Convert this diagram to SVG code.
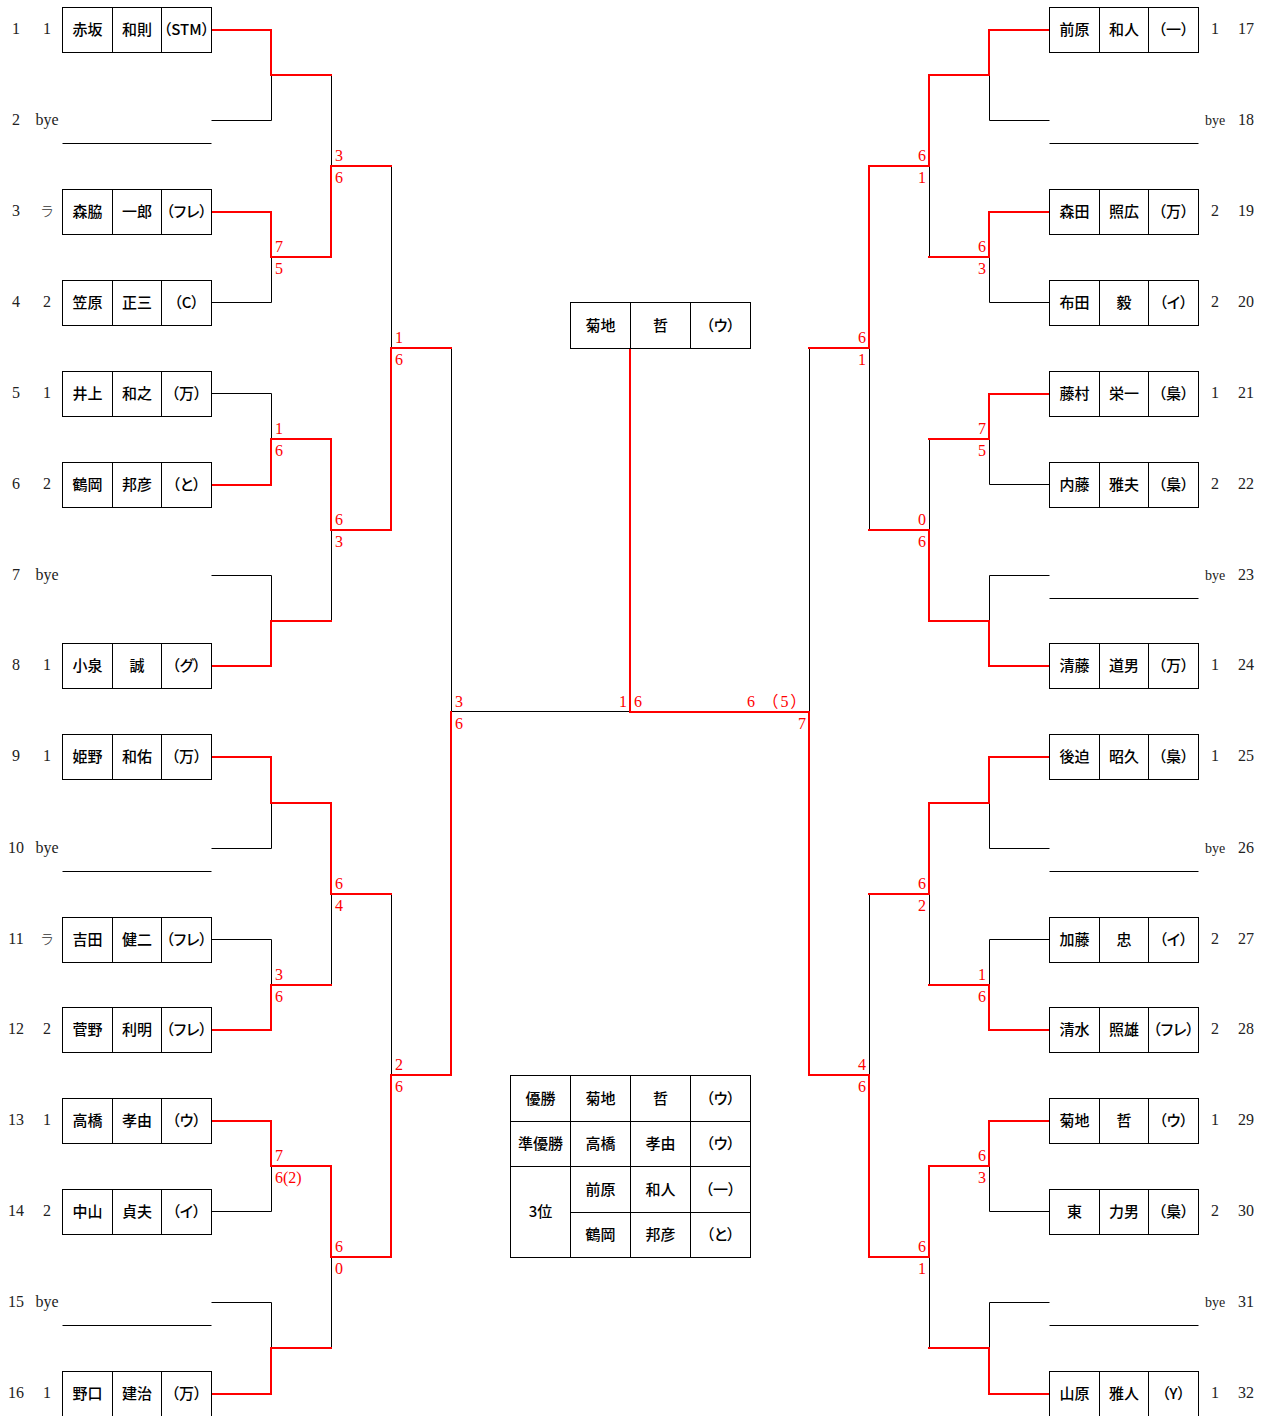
<svg xmlns="http://www.w3.org/2000/svg" xmlns:xlink="http://www.w3.org/1999/xlink" width="1266" height="1416" viewBox="0 0 1266 1416">
<style>
.sn{font-family:"Liberation Serif",serif;font-size:16px;fill:#222;text-anchor:middle}
.by{font-family:"Liberation Serif",serif;font-size:16px;fill:#222;text-anchor:middle}
.by2{font-family:"Liberation Serif",serif;font-size:14px;fill:#222;text-anchor:middle}
.ra{font-family:"Noto Sans CJK JP",sans-serif;font-size:14px;font-weight:300;fill:#333;text-anchor:middle}
.nm{font-family:"Noto Sans CJK JP","Noto Sans",sans-serif;font-size:15px;font-weight:500;fill:#000;text-anchor:middle;font-feature-settings:"palt" 1}
.sc{font-family:"Liberation Serif","Noto Sans CJK JP",serif;font-size:16px;fill:#f00}
.e{text-anchor:end}
.ln{fill:none;stroke:#000;stroke-width:1}
.win{fill:none;stroke:#f00;stroke-width:2;stroke-linecap:square;stroke-linejoin:miter}
</style>
<defs>
<g id="boxL"><rect x="62.5" y="-22" width="149" height="45" fill="none" stroke="#000" stroke-width="1"/><path d="M112.5 -22V23M161.5 -22V23" fill="none" stroke="#000" stroke-width="1"/></g>
<g id="boxR"><rect x="1049.5" y="-22" width="149" height="45" fill="none" stroke="#000" stroke-width="1"/><path d="M1099.5 -22V23M1148.5 -22V23" fill="none" stroke="#000" stroke-width="1"/></g>
</defs>
<rect width="1266" height="1416" fill="#fff"/>

<g id="connectors">
<path class="ln" d="M211.5 29.5H271.5V120.5H211.5M211.5 211.5H271.5V302.5H211.5M211.5 393.5H271.5V484.5H211.5M211.5 575.5H271.5V665.5H211.5M211.5 756.5H271.5V848.5H211.5M211.5 939.5H271.5V1029.5H211.5M211.5 1120.5H271.5V1211.5H211.5M211.5 1302.5H271.5V1393.5H211.5M331.5 75V257M331.5 439V621M331.5 803V985M331.5 1166V1348M391.5 166V530M391.5 894V1257M451.5 348V1075M451.5 711.5H630.5"/>
<path class="ln" d="M1049.5 29.5H989.5V120.5H1049.5M1049.5 211.5H989.5V302.5H1049.5M1049.5 393.5H989.5V484.5H1049.5M1049.5 575.5H989.5V665.5H1049.5M1049.5 756.5H989.5V848.5H1049.5M1049.5 939.5H989.5V1029.5H1049.5M1049.5 1120.5H989.5V1211.5H1049.5M1049.5 1302.5H989.5V1393.5H1049.5M929.5 75V257M929.5 439V621M929.5 803V985M929.5 1166V1348M869.5 166V530M869.5 894V1257M809.5 348V1075"/>
<path class="win" d="M212 30H271V75H331"/>
<path class="win" d="M212 212H271V257H331V166H391"/>
<path class="win" d="M212 485H271V439H331V530H391V348H451"/>
<path class="win" d="M212 666H271V621H331"/>
<path class="win" d="M212 757H271V803H331V894H391"/>
<path class="win" d="M212 1030H271V985H331"/>
<path class="win" d="M212 1121H271V1166H331V1257H391V1075H451V712"/>
<path class="win" d="M212 1394H271V1348H331"/>
<path class="win" d="M1049 30H989V75H929V166H869V348H809"/>
<path class="win" d="M1049 212H989V257H929"/>
<path class="win" d="M1049 394H989V439H929"/>
<path class="win" d="M1049 666H989V621H929V530H869"/>
<path class="win" d="M1049 757H989V803H929V894H869"/>
<path class="win" d="M1049 1030H989V985H929"/>
<path class="win" d="M1049 1121H989V1166H929V1257H869V1075H809V712H630V350"/>
<path class="win" d="M1049 1394H989V1348H929"/>
</g>

<g id="scores">
<text class="sc" x="275" y="252">7</text><text class="sc" x="275" y="274">5</text>
<text class="sc" x="275" y="434">1</text><text class="sc" x="275" y="456">6</text>
<text class="sc" x="275" y="980">3</text><text class="sc" x="275" y="1002">6</text>
<text class="sc" x="275" y="1161">7</text><text class="sc" x="275" y="1183">6(2)</text>
<text class="sc" x="335" y="161">3</text><text class="sc" x="335" y="183">6</text>
<text class="sc" x="335" y="525">6</text><text class="sc" x="335" y="547">3</text>
<text class="sc" x="335" y="889">6</text><text class="sc" x="335" y="911">4</text>
<text class="sc" x="335" y="1252">6</text><text class="sc" x="335" y="1274">0</text>
<text class="sc" x="395" y="343">1</text><text class="sc" x="395" y="365">6</text>
<text class="sc" x="395" y="1070">2</text><text class="sc" x="395" y="1092">6</text>
<text class="sc" x="455" y="707">3</text><text class="sc" x="455" y="729">6</text>
<text class="sc e" x="627" y="707">1</text><text class="sc" x="634" y="707">6</text>
<text class="sc" x="747" y="707" letter-spacing="1.8">6 （5）</text><text class="sc e" x="806" y="729">7</text>
<text class="sc e" x="866" y="343">6</text><text class="sc e" x="866" y="365">1</text>
<text class="sc e" x="866" y="1070">4</text><text class="sc e" x="866" y="1092">6</text>
<text class="sc e" x="926" y="161">6</text><text class="sc e" x="926" y="183">1</text>
<text class="sc e" x="926" y="525">0</text><text class="sc e" x="926" y="547">6</text>
<text class="sc e" x="926" y="889">6</text><text class="sc e" x="926" y="911">2</text>
<text class="sc e" x="926" y="1252">6</text><text class="sc e" x="926" y="1274">1</text>
<text class="sc e" x="986" y="252">6</text><text class="sc e" x="986" y="274">3</text>
<text class="sc e" x="986" y="434">7</text><text class="sc e" x="986" y="456">5</text>
<text class="sc e" x="986" y="980">1</text><text class="sc e" x="986" y="1002">6</text>
<text class="sc e" x="986" y="1161">6</text><text class="sc e" x="986" y="1183">3</text>
</g>

<g id="p1"><text class="sn" x="16" y="33.5">1</text><text class="sn" x="47" y="33.5">1</text><use href="#boxL" y="29.5"/><text class="nm" x="87.5" y="34.5">赤坂</text><text class="nm" x="137" y="34.5">和則</text><text class="nm" x="186.5" y="34.5">（STM）</text></g>
<g id="p2"><text class="sn" x="16" y="124.5">2</text><text class="by" x="47" y="124.5">bye</text><path class="ln" d="M62.5 143.5H211.5"/></g>
<g id="p3"><text class="sn" x="16" y="215.5">3</text><text class="ra" x="47" y="215.5">ラ</text><use href="#boxL" y="211.5"/><text class="nm" x="87.5" y="216.5">森脇</text><text class="nm" x="137" y="216.5">一郎</text><text class="nm" x="186.5" y="216.5">（フレ）</text></g>
<g id="p4"><text class="sn" x="16" y="306.5">4</text><text class="sn" x="47" y="306.5">2</text><use href="#boxL" y="302.5"/><text class="nm" x="87.5" y="307.5">笠原</text><text class="nm" x="137" y="307.5">正三</text><text class="nm" x="186.5" y="307.5">（C）</text></g>
<g id="p5"><text class="sn" x="16" y="397.5">5</text><text class="sn" x="47" y="397.5">1</text><use href="#boxL" y="393.5"/><text class="nm" x="87.5" y="398.5">井上</text><text class="nm" x="137" y="398.5">和之</text><text class="nm" x="186.5" y="398.5">（万）</text></g>
<g id="p6"><text class="sn" x="16" y="488.5">6</text><text class="sn" x="47" y="488.5">2</text><use href="#boxL" y="484.5"/><text class="nm" x="87.5" y="489.5">鶴岡</text><text class="nm" x="137" y="489.5">邦彦</text><text class="nm" x="186.5" y="489.5">（と）</text></g>
<g id="p7"><text class="sn" x="16" y="579.5">7</text><text class="by" x="47" y="579.5">bye</text></g>
<g id="p8"><text class="sn" x="16" y="669.5">8</text><text class="sn" x="47" y="669.5">1</text><use href="#boxL" y="665.5"/><text class="nm" x="87.5" y="670.5">小泉</text><text class="nm" x="137" y="670.5">誠</text><text class="nm" x="186.5" y="670.5">（グ）</text></g>
<g id="p9"><text class="sn" x="16" y="760.5">9</text><text class="sn" x="47" y="760.5">1</text><use href="#boxL" y="756.5"/><text class="nm" x="87.5" y="761.5">姫野</text><text class="nm" x="137" y="761.5">和佑</text><text class="nm" x="186.5" y="761.5">（万）</text></g>
<g id="p10"><text class="sn" x="16" y="852.5">10</text><text class="by" x="47" y="852.5">bye</text><path class="ln" d="M62.5 871.5H211.5"/></g>
<g id="p11"><text class="sn" x="16" y="943.5">11</text><text class="ra" x="47" y="943.5">ラ</text><use href="#boxL" y="939.5"/><text class="nm" x="87.5" y="944.5">吉田</text><text class="nm" x="137" y="944.5">健二</text><text class="nm" x="186.5" y="944.5">（フレ）</text></g>
<g id="p12"><text class="sn" x="16" y="1033.5">12</text><text class="sn" x="47" y="1033.5">2</text><use href="#boxL" y="1029.5"/><text class="nm" x="87.5" y="1034.5">菅野</text><text class="nm" x="137" y="1034.5">利明</text><text class="nm" x="186.5" y="1034.5">（フレ）</text></g>
<g id="p13"><text class="sn" x="16" y="1124.5">13</text><text class="sn" x="47" y="1124.5">1</text><use href="#boxL" y="1120.5"/><text class="nm" x="87.5" y="1125.5">高橋</text><text class="nm" x="137" y="1125.5">孝由</text><text class="nm" x="186.5" y="1125.5">（ウ）</text></g>
<g id="p14"><text class="sn" x="16" y="1215.5">14</text><text class="sn" x="47" y="1215.5">2</text><use href="#boxL" y="1211.5"/><text class="nm" x="87.5" y="1216.5">中山</text><text class="nm" x="137" y="1216.5">貞夫</text><text class="nm" x="186.5" y="1216.5">（イ）</text></g>
<g id="p15"><text class="sn" x="16" y="1306.5">15</text><text class="by" x="47" y="1306.5">bye</text><path class="ln" d="M62.5 1325.5H211.5"/></g>
<g id="p16"><text class="sn" x="16" y="1397.5">16</text><text class="sn" x="47" y="1397.5">1</text><use href="#boxL" y="1393.5"/><text class="nm" x="87.5" y="1398.5">野口</text><text class="nm" x="137" y="1398.5">建治</text><text class="nm" x="186.5" y="1398.5">（万）</text></g>

<g id="p17"><use href="#boxR" y="29.5"/><text class="nm" x="1074.5" y="34.5">前原</text><text class="nm" x="1124" y="34.5">和人</text><text class="nm" x="1173.5" y="34.5">（一）</text><text class="sn" x="1215" y="33.5">1</text><text class="sn" x="1246" y="33.5">17</text></g>
<g id="p18"><path class="ln" d="M1049.5 143.5H1198.5"/><text class="by2" x="1215" y="124.5">bye</text><text class="sn" x="1246" y="124.5">18</text></g>
<g id="p19"><use href="#boxR" y="211.5"/><text class="nm" x="1074.5" y="216.5">森田</text><text class="nm" x="1124" y="216.5">照広</text><text class="nm" x="1173.5" y="216.5">（万）</text><text class="sn" x="1215" y="215.5">2</text><text class="sn" x="1246" y="215.5">19</text></g>
<g id="p20"><use href="#boxR" y="302.5"/><text class="nm" x="1074.5" y="307.5">布田</text><text class="nm" x="1124" y="307.5">毅</text><text class="nm" x="1173.5" y="307.5">（イ）</text><text class="sn" x="1215" y="306.5">2</text><text class="sn" x="1246" y="306.5">20</text></g>
<g id="p21"><use href="#boxR" y="393.5"/><text class="nm" x="1074.5" y="398.5">藤村</text><text class="nm" x="1124" y="398.5">栄一</text><text class="nm" x="1173.5" y="398.5">（梟）</text><text class="sn" x="1215" y="397.5">1</text><text class="sn" x="1246" y="397.5">21</text></g>
<g id="p22"><use href="#boxR" y="484.5"/><text class="nm" x="1074.5" y="489.5">内藤</text><text class="nm" x="1124" y="489.5">雅夫</text><text class="nm" x="1173.5" y="489.5">（梟）</text><text class="sn" x="1215" y="488.5">2</text><text class="sn" x="1246" y="488.5">22</text></g>
<g id="p23"><path class="ln" d="M1049.5 598.5H1198.5"/><text class="by2" x="1215" y="579.5">bye</text><text class="sn" x="1246" y="579.5">23</text></g>
<g id="p24"><use href="#boxR" y="665.5"/><text class="nm" x="1074.5" y="670.5">清藤</text><text class="nm" x="1124" y="670.5">道男</text><text class="nm" x="1173.5" y="670.5">（万）</text><text class="sn" x="1215" y="669.5">1</text><text class="sn" x="1246" y="669.5">24</text></g>
<g id="p25"><use href="#boxR" y="756.5"/><text class="nm" x="1074.5" y="761.5">後迫</text><text class="nm" x="1124" y="761.5">昭久</text><text class="nm" x="1173.5" y="761.5">（梟）</text><text class="sn" x="1215" y="760.5">1</text><text class="sn" x="1246" y="760.5">25</text></g>
<g id="p26"><path class="ln" d="M1049.5 871.5H1198.5"/><text class="by2" x="1215" y="852.5">bye</text><text class="sn" x="1246" y="852.5">26</text></g>
<g id="p27"><use href="#boxR" y="939.5"/><text class="nm" x="1074.5" y="944.5">加藤</text><text class="nm" x="1124" y="944.5">忠</text><text class="nm" x="1173.5" y="944.5">（イ）</text><text class="sn" x="1215" y="943.5">2</text><text class="sn" x="1246" y="943.5">27</text></g>
<g id="p28"><use href="#boxR" y="1029.5"/><text class="nm" x="1074.5" y="1034.5">清水</text><text class="nm" x="1124" y="1034.5">照雄</text><text class="nm" x="1173.5" y="1034.5">（フレ）</text><text class="sn" x="1215" y="1033.5">2</text><text class="sn" x="1246" y="1033.5">28</text></g>
<g id="p29"><use href="#boxR" y="1120.5"/><text class="nm" x="1074.5" y="1125.5">菊地</text><text class="nm" x="1124" y="1125.5">哲</text><text class="nm" x="1173.5" y="1125.5">（ウ）</text><text class="sn" x="1215" y="1124.5">1</text><text class="sn" x="1246" y="1124.5">29</text></g>
<g id="p30"><use href="#boxR" y="1211.5"/><text class="nm" x="1074.5" y="1216.5">東</text><text class="nm" x="1124" y="1216.5">力男</text><text class="nm" x="1173.5" y="1216.5">（梟）</text><text class="sn" x="1215" y="1215.5">2</text><text class="sn" x="1246" y="1215.5">30</text></g>
<g id="p31"><path class="ln" d="M1049.5 1325.5H1198.5"/><text class="by2" x="1215" y="1306.5">bye</text><text class="sn" x="1246" y="1306.5">31</text></g>
<g id="p32"><use href="#boxR" y="1393.5"/><text class="nm" x="1074.5" y="1398.5">山原</text><text class="nm" x="1124" y="1398.5">雅人</text><text class="nm" x="1173.5" y="1398.5">（Y）</text><text class="sn" x="1215" y="1397.5">1</text><text class="sn" x="1246" y="1397.5">32</text></g>

<g id="champion">
<rect class="ln" x="570.5" y="302.5" width="180" height="46"/>
<path class="ln" d="M630.5 302.5V348.5M690.5 302.5V348.5"/>
<text class="nm" x="600.5" y="331">菊地</text><text class="nm" x="660.5" y="331">哲</text><text class="nm" x="720.5" y="331">（ウ）</text>
</g>

<g id="results">
<rect class="ln" x="510.5" y="1075.5" width="240" height="182"/>
<path class="ln" d="M570.5 1075.5V1257.5M630.5 1075.5V1257.5M690.5 1075.5V1257.5M510.5 1121.5H750.5M510.5 1166.5H750.5M570.5 1212.5H750.5"/>
<text class="nm" x="540.5" y="1103.5">優勝</text><text class="nm" x="600.5" y="1103.5">菊地</text><text class="nm" x="660.5" y="1103.5">哲</text><text class="nm" x="720.5" y="1103.5">（ウ）</text>
<text class="nm" x="540.5" y="1149">準優勝</text><text class="nm" x="600.5" y="1149">高橋</text><text class="nm" x="660.5" y="1149">孝由</text><text class="nm" x="720.5" y="1149">（ウ）</text>
<text class="nm" x="540.5" y="1217">3位</text>
<text class="nm" x="600.5" y="1194.5">前原</text><text class="nm" x="660.5" y="1194.5">和人</text><text class="nm" x="720.5" y="1194.5">（一）</text>
<text class="nm" x="600.5" y="1240">鶴岡</text><text class="nm" x="660.5" y="1240">邦彦</text><text class="nm" x="720.5" y="1240">（と）</text>
</g>
</svg>
